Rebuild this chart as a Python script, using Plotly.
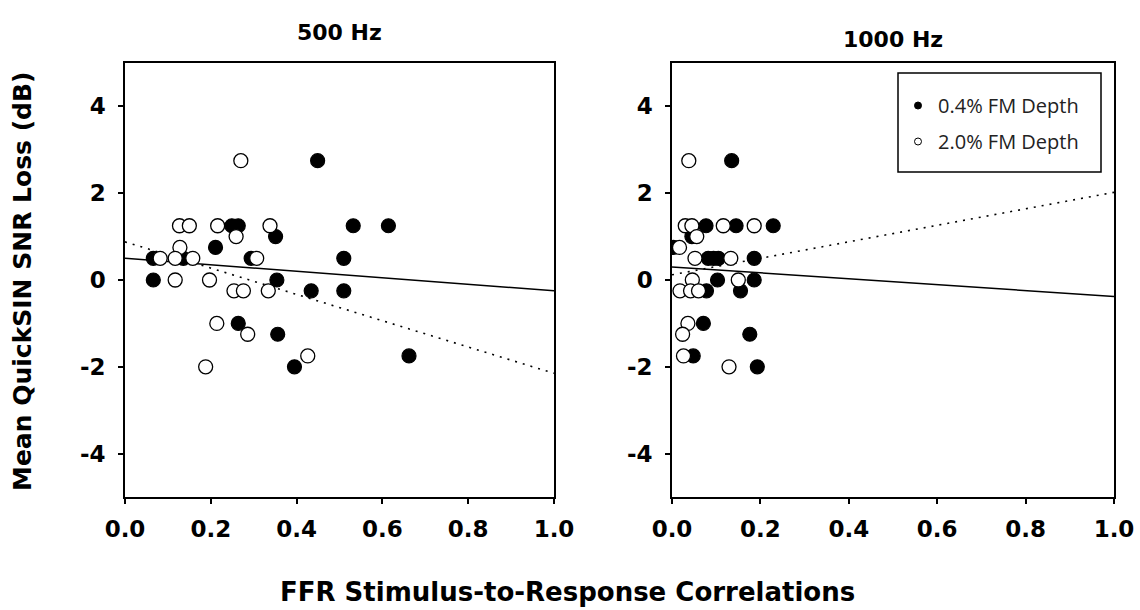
import plotly.graph_objects as go

# ---------------- data ----------------
x_ticks = [0.0, 0.2, 0.4, 0.6, 0.8, 1.0]
x_tick_labels = ["0.0", "0.2", "0.4", "0.6", "0.8", "1.0"]
y_ticks = [-4, -2, 0, 2, 4]
y_tick_labels = ["-4", "-2", "0", "2", "4"]

filled_500_x = [0.449, 0.249, 0.264, 0.532, 0.614, 0.351, 0.211, 0.066, 0.136, 0.294, 0.510, 0.066, 0.354, 0.434, 0.510, 0.264, 0.356, 0.662, 0.395]
filled_500_y = [2.75, 1.25, 1.25, 1.25, 1.25, 1.0, 0.75, 0.5, 0.5, 0.5, 0.5, 0.0, 0.0, -0.25, -0.25, -1.0, -1.25, -1.75, -2.0]

open_500_x = [0.270, 0.127, 0.150, 0.216, 0.338, 0.259, 0.128, 0.082, 0.117, 0.158, 0.307, 0.117, 0.197, 0.254, 0.276, 0.334, 0.214, 0.286, 0.426, 0.188]
open_500_y = [2.75, 1.25, 1.25, 1.25, 1.25, 1.0, 0.75, 0.5, 0.5, 0.5, 0.5, 0.0, 0.0, -0.25, -0.25, -0.25, -1.0, -1.25, -1.75, -2.0]

filled_1000_x = [0.135, 0.077, 0.145, 0.229, 0.045, 0.003, 0.082, 0.094, 0.105, 0.186, 0.103, 0.186, 0.078, 0.155, 0.071, 0.176, 0.048, 0.193]
filled_1000_y = [2.75, 1.25, 1.25, 1.25, 1.0, 0.75, 0.5, 0.5, 0.5, 0.5, 0.0, 0.0, -0.25, -0.25, -1.0, -1.25, -1.75, -2.0]

open_1000_x = [0.038, 0.030, 0.045, 0.116, 0.186, 0.056, 0.017, 0.052, 0.133, 0.046, 0.150, 0.018, 0.042, 0.060, 0.036, 0.024, 0.026, 0.129]
open_1000_y = [2.75, 1.25, 1.25, 1.25, 1.25, 1.0, 0.75, 0.5, 0.5, 0.0, 0.0, -0.25, -0.25, -0.25, -1.0, -1.25, -1.75, -2.0]

fit_x = [0.0, 1.0]
fit_500_filled = [0.5, -0.25]
fit_500_open = [0.88, -2.15]
fit_1000_filled = [0.3, -0.38]
fit_1000_open = [0.12, 2.02]

series_names = ["0.4% FM Depth", "2.0% FM Depth"]

# ---------------- figure ----------------
W, H = 1140, 610
BOLD = "DejaVu Sans"
fig = go.Figure()

def add_panel(xa, ya, fx, fy, ox, oy, fit_f, fit_o):
    fig.add_trace(go.Scatter(x=fit_x, y=fit_f, mode="lines", xaxis=xa, yaxis=ya,
                             line=dict(color="black", width=1.5), showlegend=False, hoverinfo="skip"))
    fig.add_trace(go.Scatter(x=fit_x, y=fit_o, mode="lines", xaxis=xa, yaxis=ya,
                             line=dict(color="black", width=1.6, dash="2px,6px"), showlegend=False, hoverinfo="skip"))
    fig.add_trace(go.Scatter(x=fx, y=fy, mode="markers", xaxis=xa, yaxis=ya, showlegend=False,
                             marker=dict(size=14, color="black", line=dict(color="black", width=1.2))))
    fig.add_trace(go.Scatter(x=ox, y=oy, mode="markers", xaxis=xa, yaxis=ya, showlegend=False,
                             marker=dict(size=14, color="white", line=dict(color="black", width=1.3))))

add_panel("x", "y", filled_500_x, filled_500_y, open_500_x, open_500_y, fit_500_filled, fit_500_open)
add_panel("x2", "y2", filled_1000_x, filled_1000_y, open_1000_x, open_1000_y, fit_1000_filled, fit_1000_open)

# legend-only entries (small symbols as in the original legend)
fig.add_trace(go.Scatter(x=[None], y=[None], mode="markers", xaxis="x2", yaxis="y2", name=series_names[0],
                         legendgroup="a", marker=dict(size=7, color="black", line=dict(color="black", width=1))))
fig.add_trace(go.Scatter(x=[None], y=[None], mode="markers", xaxis="x2", yaxis="y2", name=series_names[1],
                         legendgroup="b", marker=dict(size=7, color="white", line=dict(color="black", width=1))))

y_dom = [(H - 497) / H, (H - 63) / H]
ax_common = dict(showline=True, linecolor="black", linewidth=1.5, mirror=True, ticks="outside",
                 ticklen=5, tickwidth=1.5, tickcolor="black", showgrid=False, zeroline=False,
                 automargin=False,
                 tickfont=dict(family=BOLD, size=23, color="black", weight="bold"))

def title_font(sz=22):
    return dict(family=BOLD, size=sz, color="black", weight="bold")

fig.update_layout(
    template="none",
    width=W, height=H, margin=dict(l=0, r=0, t=0, b=0, autoexpand=False),
    paper_bgcolor="white", plot_bgcolor="white",
    xaxis=dict(domain=[125 / W, 554 / W], range=[0, 1], tickvals=x_ticks, ticktext=x_tick_labels,
               anchor="y", ticklabelstandoff=6, **ax_common),
    yaxis=dict(domain=y_dom, range=[-5, 5], tickvals=y_ticks, ticktext=y_tick_labels,
               anchor="x", ticklabelstandoff=8, **ax_common),
    xaxis2=dict(domain=[672 / W, 1114 / W], range=[0, 1], tickvals=x_ticks, ticktext=x_tick_labels,
                anchor="y2", ticklabelstandoff=6, **ax_common),
    yaxis2=dict(domain=y_dom, range=[-5, 5], tickvals=y_ticks, ticktext=y_tick_labels,
                anchor="x2", ticklabelstandoff=8, **ax_common),
    showlegend=True,
    legend=dict(x=898 / W, y=(H - 86) / H, xanchor="left", yanchor="top",
                borderwidth=0, bgcolor="rgba(0,0,0,0)",
                font=dict(family="Open Sans", size=20, color="#222"),
                traceorder="grouped", tracegroupgap=7, itemwidth=30),
    shapes=[
        dict(type="rect", xref="paper", yref="paper", x0=898 / W, x1=1101 / W,
             y0=1 - 172 / H, y1=1 - 73 / H, line=dict(color="black", width=1.5), fillcolor="white",
             layer="below"),
    ],
    annotations=[
        dict(text="500 Hz", x=(125 + 554) / 2 / W, y=1 - 33 / H, xref="paper", yref="paper",
             xanchor="center", yanchor="middle", showarrow=False, font=title_font(22)),
        dict(text="1000 Hz", x=(672 + 1114) / 2 / W, y=1 - 40 / H, xref="paper", yref="paper",
             xanchor="center", yanchor="middle", showarrow=False, font=title_font(22)),
        dict(text="Mean QuickSIN SNR Loss (dB)", x=22 / W, y=1 - 282 / H, xref="paper", yref="paper",
             xanchor="center", yanchor="middle", textangle=-90, showarrow=False, font=title_font(25)),
        dict(text="FFR Stimulus-to-Response Correlations", x=567 / W, y=1 - 592 / H, xref="paper", yref="paper",
             xanchor="center", yanchor="middle", showarrow=False, font=title_font(26)),
    ],
)

fig.write_html("out.html")
